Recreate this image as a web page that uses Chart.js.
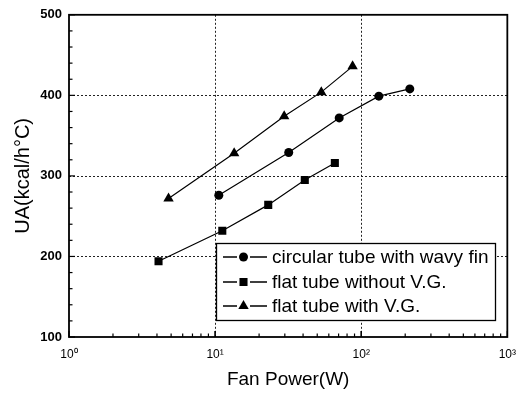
<!DOCTYPE html>
<html>
<head>
<meta charset="utf-8">
<script src="https://cdn.jsdelivr.net/npm/chart.js@4/dist/chart.umd.min.js"></script>
<style>
  html, body { margin: 0; padding: 0; background: #fff; }
  #wrap { width: 526px; height: 393px; }
</style>
</head>
<body>
<div id="wrap"><canvas id="chart" width="526" height="393"></canvas></div>
<script>
"use strict";

// 读图得到的数据 (Fan Power W, UA kcal/h°C)
const seriesNames = ["circular tube with wavy fin", "flat tube without V.G.", "flat tube with V.G."];
const circlePower = [10.6, 31.9, 70.7, 132, 215];
const circleUA = [276, 329, 372, 399, 408];
const flatPower = [4.1, 11.2, 23.1, 41.1, 66];
const flatUA = [194, 232, 264, 295, 316];
const vgPower = [4.8, 13.5, 29.7, 53.3, 87.3];
const vgUA = [272, 328, 374, 404, 436];

const xTickValues = [1, 10, 100, 1000];
const xTickLabels = ["10⁰", "10¹", "10²", "10³"];
const yTickValues = [100, 200, 300, 400, 500];
const xGridValues = [10, 100];
const yGridValues = [200, 300, 400];

const FONT = "'Liberation Sans', Arial, sans-serif";

const toPoints = (xs, ys) => xs.map((x, i) => ({ x, y: ys[i] }));

function makeSet(label, xs, ys, style, radius) {
  return {
    label,
    data: toPoints(xs, ys),
    showLine: true,
    borderColor: "#000",
    borderWidth: 1.2,
    backgroundColor: "#000",
    pointStyle: style,
    pointRadius: radius,
    pointBackgroundColor: "#000",
    pointBorderColor: "#000",
    pointBorderWidth: 0,
  };
}

// 网格、边框、内向刻度、图例
const framePlugin = {
  id: "frame",
  beforeDatasetsDraw(chart) {
    const { ctx, chartArea: a, scales: { x, y } } = chart;
    ctx.save();
    ctx.strokeStyle = "#222";
    ctx.lineWidth = 1;
    ctx.setLineDash([2, 2]);
    xGridValues.forEach((v) => {
      const px = Math.round(x.getPixelForValue(v)) + 0.5;
      ctx.beginPath(); ctx.moveTo(px, a.top); ctx.lineTo(px, a.bottom); ctx.stroke();
    });
    yGridValues.forEach((v) => {
      const py = Math.round(y.getPixelForValue(v)) + 0.5;
      ctx.beginPath(); ctx.moveTo(a.left, py); ctx.lineTo(a.right, py); ctx.stroke();
    });
    ctx.restore();
  },
  afterDraw(chart) {
    const { ctx, chartArea: a, scales: { x, y } } = chart;
    ctx.save();
    ctx.setLineDash([]);
    ctx.strokeStyle = "#000";

    // 刻度
    ctx.lineWidth = 1.2;
    for (let v = 100; v <= 500; v += 20) {
      const py = y.getPixelForValue(v);
      const len = v % 100 === 0 ? 6 : 3.5;
      ctx.beginPath(); ctx.moveTo(a.left, py); ctx.lineTo(a.left + len, py); ctx.stroke();
    }
    [1, 10, 100].forEach((dec) => {
      for (let k = 1; k <= 10; k++) {
        const px = x.getPixelForValue(dec * k);
        const len = k === 1 || k === 10 ? 6 : 3.5;
        ctx.beginPath(); ctx.moveTo(px, a.bottom); ctx.lineTo(px, a.bottom - len); ctx.stroke();
      }
    });

    // 边框
    ctx.lineWidth = 1.8;
    ctx.strokeRect(a.left, a.top, a.right - a.left, a.bottom - a.top);

    // 图例
    const box = { l: 216, t: 243, r: 495, b: 320 };
    ctx.fillStyle = "#fff";
    ctx.fillRect(box.l, box.t, box.r - box.l, box.b - box.t);
    ctx.lineWidth = 1.3;
    ctx.strokeRect(box.l + 0.5, box.t + 0.5, box.r - box.l, box.b - box.t);
    const rows = [257, 282, 306];
    ctx.font = "19px " + FONT;
    ctx.textBaseline = "middle";
    chart.data.datasets.forEach((ds, i) => {
      const cy = rows[i];
      ctx.strokeStyle = "#000";
      ctx.lineWidth = 1.3;
      ctx.beginPath();
      ctx.moveTo(223, cy); ctx.lineTo(237, cy);
      ctx.moveTo(250, cy); ctx.lineTo(267, cy);
      ctx.stroke();
      ctx.fillStyle = "#000";
      Chart.helpers.drawPoint(ctx, { pointStyle: ds.pointStyle, radius: ds.pointRadius, rotation: 0, borderWidth: 0 }, 243.5, cy);
      ctx.fillStyle = "#000";
      ctx.fillText(ds.label, 272, cy + 1);
    });
    ctx.restore();
  },
};

new Chart(document.getElementById("chart"), {
  type: "scatter",
  data: {
    datasets: [
      makeSet(seriesNames[0], circlePower, circleUA, "circle", 4.5),
      makeSet(seriesNames[1], flatPower, flatUA, "rect", 5.7),
      makeSet(seriesNames[2], vgPower, vgUA, "triangle", 6),
    ],
  },
  options: {
    responsive: false,
    animation: false,
    devicePixelRatio: 1,
    layout: { padding: { top: 10, right: 17, left: 0, bottom: 0 } },
    plugins: { legend: { display: false }, tooltip: { enabled: false } },
    scales: {
      x: {
        type: "logarithmic",
        min: 1,
        max: 1000,
        afterBuildTicks: (s) => { s.ticks = xTickValues.map((v) => ({ value: v })); },
        afterFit: (s) => { s.height = 56; },
        grid: { display: false, drawTicks: false },
        border: { display: false },
        ticks: {
          color: "#000",
          padding: 10,
          maxRotation: 0,
          font: { family: FONT, size: 12 },
          callback: (v) => xTickLabels[xTickValues.indexOf(v)],
        },
        title: {
          display: true,
          text: "Fan Power(W)",
          color: "#000",
          font: { family: FONT, size: 19 },
          padding: { top: 4, bottom: 2 },
        },
      },
      y: {
        min: 100,
        max: 500,
        afterBuildTicks: (s) => { s.ticks = yTickValues.map((v) => ({ value: v })); },
        afterFit: (s) => { s.width = 69; },
        grid: { display: false, drawTicks: false },
        border: { display: false },
        ticks: {
          color: "#000",
          padding: 7,
          font: { family: FONT, size: 13, weight: "bold" },
        },
        title: {
          display: true,
          text: "UA(kcal/h°C)",
          color: "#000",
          font: { family: FONT, size: 20 },
          padding: { bottom: 0, top: 11 },
        },
      },
    },
  },
  plugins: [framePlugin],
});
</script>
</body>
</html>
